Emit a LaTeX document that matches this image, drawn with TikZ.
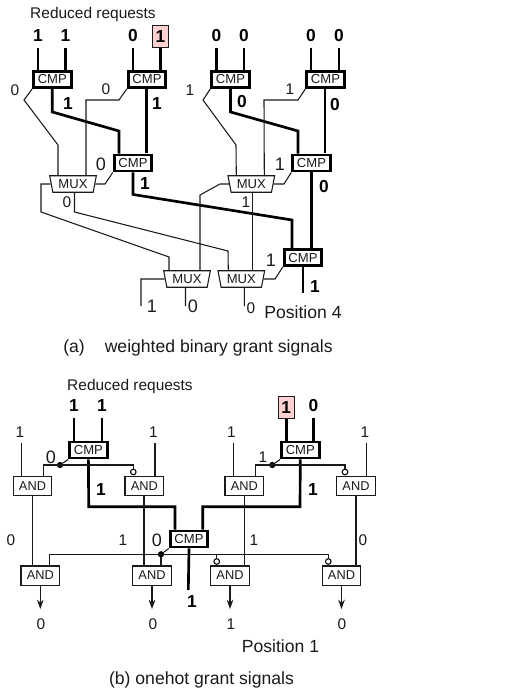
\documentclass[tikz,border=0pt]{standalone}
\usepackage{fontspec}
\setmainfont{Liberation Sans}
\usetikzlibrary{calc,arrows.meta,shapes.geometric}
\definecolor{ink}{HTML}{1A1A1A}
\definecolor{pinkfill}{HTML}{FFD0D0}
\tikzset{
  cmpbox/.style={draw=black,line width=2.2pt,fill=white,minimum width=28.1pt,minimum height=12pt,inner sep=0pt,text=ink,font=\fontsize{9.8}{10}\selectfont},
  andbox/.style={draw=ink,line width=0.8pt,fill=white,minimum width=29pt,minimum height=14.3pt,inner sep=0pt,text=ink,font=\fontsize{9.6}{10}\selectfont},
  muxbox/.style={draw=ink,line width=0.8pt,fill=white,shape=trapezium,trapezium stretches=true,shape border rotate=180,trapezium left angle=76,trapezium right angle=76,minimum width=35pt,minimum height=12.4pt,inner sep=0pt,text=ink,font=\fontsize{9.8}{10}\selectfont},
  wt/.style={draw=black,line width=2pt},
  wn/.style={draw=ink,line width=0.8pt},
  lab/.style={inner sep=0pt,text=ink,font=\fontsize{11.6}{12}\selectfont},
  blab/.style={inner sep=0pt,text=black,font=\fontsize{13}{14}\selectfont\bfseries},
  biglab/.style={inner sep=0pt,text=ink,font=\fontsize{13.5}{14}\selectfont},
  reqtext/.style={inner sep=0pt,text=ink,font=\fontsize{11.6}{13}\selectfont},
  captext/.style={inner sep=0pt,text=ink,font=\fontsize{13.2}{15}\selectfont},
  pinkbox/.style={draw=ink,line width=0.8pt,fill=pinkfill,minimum width=12pt,minimum height=16.5pt,inner sep=0pt,text=black,font=\fontsize{13}{14}\selectfont\bfseries},
  jdot/.style={circle,fill=black,draw=black,inner sep=0pt,minimum size=4.2pt},
  inv/.style={circle,fill=white,draw=black,line width=0.8pt,inner sep=0pt,minimum size=4.2pt},
  wo/.style={wn,-{Stealth[length=7pt,width=5pt]}},
}
\begin{document}
\begin{tikzpicture}[x=0.75pt,y=-0.75pt]
\useasboundingbox (0,0) rectangle (505,692);
% ---- (a) ----
\node[reqtext] (rr1) at (93,15) {Reduced requests};
\node[cmpbox] (c1) at (52.3,79.5) {CMP};
\node[cmpbox] (c2) at (147,79.5) {CMP};
\node[cmpbox] (c3) at (230.5,79.5) {CMP};
\node[cmpbox] (c4) at (325.5,79.5) {CMP};
\node[cmpbox] (c5) at (133,163) {CMP};
\node[cmpbox] (c6) at (311.5,163) {CMP};
\node[cmpbox] (c7) at (303,257.5) {CMP};
\node[muxbox] (m1) at (73,184) {MUX};
\node[muxbox] (m2) at (251.3,184) {MUX};
\node[muxbox] (m3) at (187,279) {MUX};
\node[muxbox] (m4) at (241.3,279) {MUX};
% input labels
\node[blab] (t1) at (38,36) {1};
\node[blab] (t2) at (65.5,36) {1};
\node[blab] (t3) at (133,36) {0};
\node[pinkbox] (t4) at (160.5,36.5) {1};
\node[blab] (t5) at (216.5,36) {0};
\node[blab] (t6) at (244,36) {0};
\node[blab] (t7) at (311,36) {0};
\node[blab] (t8) at (339,36) {0};
\foreach \t/\c in {t1/c1,t2/c1,t3/c2,t5/c3,t6/c3,t7/c4,t8/c4}
  \draw[wt] ($(\t)+(0,12)$) -- (\t |- \c.north);
\draw[wt] (t4.south) -- (t4 |- c2.north);
% thick data
\draw[wt] (c1.south) -- ++(0,23) -- (119,131) -- (119,131 |- c5.north);
\draw[wt] (146.5,89) -- (146.5,153);
\draw[wt] (c3.south) -- ++(0,23) -- (298,131) -- (298,131 |- c6.north);
\draw[wt] (325,89) -- (325,153);
\draw[wt] (c5.south) -- ++(0,22) -- (292,220) -- (292,220 |- c7.north);
\draw[wt] (c6.south) -- (c6.south |- c7.north);
\coordinate (pos4) at (303,293);
\draw[wt] (c7.south) -- (pos4);
% thin
\draw[wn] (c1.south west) -- (24,100) -- (58,145) -- ($(m1.north)+(-15,0)$);
\draw[wn] (c2.south west) -- (119,100) -- (86,100) -- ($(m1.north)+(13,0)$);
\draw[wn] (c3.south west) -- (203,100) -- (236,145) -- ($(m2.north)+(-15,0)$);
\draw[wn] (c4.south west) -- (298,100) -- (264,100) -- ($(m2.north)+(13,0)$);
\draw[wn] (c5.south west) -- (105,184) -- (m1.east);
\draw[wn] (c6.south west) -- (284,184) -- (m2.east);
\draw[wn] (c7.south west) -- (275,279) -- (m4.east);
\draw[wn] (m1.west) -- (41,184) -- (41,212) -- (169,257) -- ($(m3.north)+(-18,0)$);
\draw[wn] ($(m1.south)+(1.5,0)$) -- (74.5,212) -- (228,251) -- ($(m4.north)+(-13,0)$);
\draw[wn] (m2.west) -- (220,184) -- (200,195) -- ($(m3.north)+(13,0)$);
\draw[wn] ($(m2.south)+(1.4,0)$) -- ($(m4.north)+(11.4,0)$);
\coordinate (e1) at (141,306);
\coordinate (e2) at (185.5,306);
\coordinate (e3) at (244.3,306);
\draw[wn] (m3.west) -- (141,279) -- (e1);
\draw[wn] ($(m3.south)+(-1.5,0)$) -- (e2);
\draw[wn] ($(m4.south)+(3,0)$) -- (e3);
% labels
\node[lab] (a1) at (15,90) {0};
\node[blab] (a2) at (68,104) {1};
\node[lab] (a3) at (106,89) {0};
\node[blab] (a4) at (157,104) {1};
\node[lab] (a5) at (190,90) {1};
\node[blab] (a6) at (242,102) {0};
\node[lab] (a7) at (290,89) {1};
\node[blab] (a8) at (335,105) {0};
\node[biglab] (a9) at (101,164) {0};
\node[biglab] (a10) at (280,164) {1};
\node[blab] (a11) at (145,184) {1};
\node[blab] (a12) at (324,187) {0};
\node[lab] (a13) at (67,202) {0};
\node[lab] (a14) at (246,202) {1};
\node[biglab] (a15) at (271,260) {1};
\node[blab] (a16) at (315,287) {1};
\node[biglab] (a17) at (152,306) {1};
\node[biglab] (a18) at (193,306) {0};
\node[lab] (a19) at (251,308) {0};
\node[captext] (p4) at (303,312) {Position 4};
\node[captext,anchor=west] (capa) at (63,348) {(a)\hspace{15pt}weighted binary grant signals};
% ---- (b) ----
\node[reqtext] (rr2) at (130,386) {Reduced requests};
\node[cmpbox] (ca) at (88.4,450) {CMP};
\node[cmpbox] (cb) at (300.3,450) {CMP};
\node[cmpbox] (cc) at (189,539) {CMP};
\node[andbox] (n1) at (32.5,486) {AND};
\node[andbox] (n2) at (144.3,486) {AND};
\node[andbox] (n7) at (244.3,486) {AND};
\node[andbox] (n8) at (356,486) {AND};
\node[andbox] (n3) at (40.3,575.5) {AND};
\node[andbox] (n4) at (152,575.5) {AND};
\node[andbox] (n5) at (230,575.5) {AND};
\node[andbox] (n6) at (341.5,575.5) {AND};
\node[blab] (b1) at (74,406) {1};
\node[blab] (b2) at (102,406) {1};
\node[pinkbox] (b3) at (286.3,407.5) {1};
\node[blab] (b4) at (313.5,406) {0};
\draw[wt] ($(b1)+(0,12)$) -- (b1 |- ca.north);
\draw[wt] ($(b2)+(0,12)$) -- (b2 |- ca.north);
\draw[wt] (b3.south) -- (b3 |- cb.north);
\draw[wt] ($(b4)+(0,12)$) -- (b4 |- cb.north);
% thick tree
\draw[wt] (ca.south) -- (88.7,506.7) -- (175,506.7) -- (175,506.7 |- cc.north);
\draw[wt] (cb.south) -- (300,506.7) -- (202.7,506.7) -- (202.7,506.7 |- cc.north);
\coordinate (pos1) at (188.3,590);
\draw[wt] (cc.south) -- (pos1);
% top thin inputs
\node[lab] (d1) at (20,432) {1};
\node[lab] (d2) at (153.5,432) {1};
\node[lab] (d3) at (231.5,432) {1};
\node[lab] (d4) at (365,432) {1};
\coordinate (i1) at (21.7,443);
\coordinate (i2) at (155,443);
\coordinate (i3) at (233.3,443);
\coordinate (i4) at (366.7,443);
\draw[wn] (i1) -- (i1 |- n1.north);
\draw[wn] (i2) -- (i2 |- n2.north);
\draw[wn] (i3) -- (i3 |- n7.north);
\draw[wn] (i4) -- (i4 |- n8.north);
% select left
\node[jdot] (j1) at (60,465) {};
\node[inv] (v1) at (133.3,472) {};
\draw[wn] (43.7,476) -- (43.7,465) -- (133.3,465) -- (v1.north);
\draw[wn] (ca.south west) -- (j1);
% select right
\node[jdot] (j2) at (272.3,465) {};
\node[inv] (v2) at (345,472) {};
\draw[wn] (255.3,476) -- (255.3,465) -- (345,465) -- (v2.north);
\draw[wn] (cb.south west) -- (j2);
% columns
\draw[wn] (32.7,496) -- (32.7,565.7);
\draw[wn] (144,496) -- (144,565.7);
\draw[wn] (244.3,496) -- (244.3,565.7);
\draw[wn] (356,496) -- (356,565.7);
% lower bus
\node[jdot] (j3) at (161,554.3) {};
\node[inv] (v3) at (216.7,561.5) {};
\node[inv] (v4) at (328.3,561.5) {};
\draw[wn] (49.3,565.7) -- (49.3,554.3) -- (328.3,554.3) -- (v4.north);
\draw[wn] (216.7,554.3) -- (v3.north);
\draw[wn] (j3) -- (161,565.7);
\draw[wn] (cc.south west) -- (j3);
% outputs
\node[lab] (o1) at (41,624) {0};
\node[lab] (o2) at (153,624) {0};
\node[lab] (o3) at (231,624) {1};
\node[lab] (o4) at (342,624) {0};
\draw[wo] (n3.south) -- (40.3,609);
\draw[wo] (n4.south) -- (152,609);
\draw[wo] (n5.south) -- (230,609);
\draw[wo] (n6.south) -- (341.5,609);
% labels
\node[biglab] (f1) at (51,457) {0};
\node[lab] (f2) at (263,457) {1};
\node[blab] (f3) at (101,490) {1};
\node[blab] (f4) at (313,490) {1};
\node[lab] (f5) at (11,540) {0};
\node[lab] (f6) at (123,540) {1};
\node[biglab] (f7) at (157,540) {0};
\node[lab] (f8) at (254,540) {1};
\node[lab] (f9) at (363,540) {0};
\node[blab] (f10) at (192,602) {1};
\node[captext] (p1) at (280.5,646) {Position 1};
\node[captext] (capb) at (201.5,680) {(b) onehot grant signals};
\end{tikzpicture}
\end{document}
